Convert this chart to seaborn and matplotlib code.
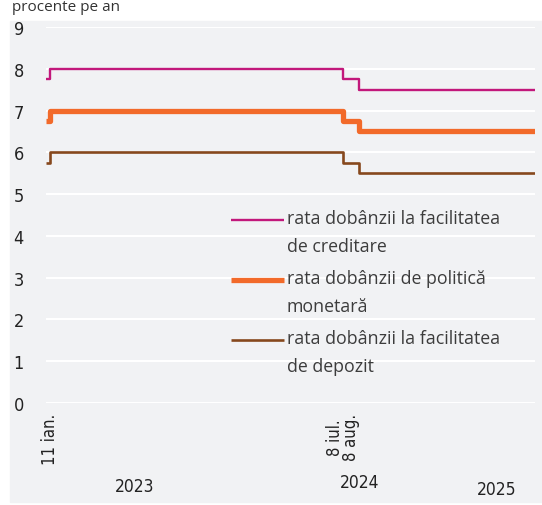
import pandas as pd
import numpy as np
import matplotlib
matplotlib.use("Agg")
import matplotlib.pyplot as plt
import matplotlib.dates as mdates
from matplotlib.patches import Rectangle
from matplotlib.legend_handler import HandlerLine2D
import seaborn as sns

# date of each change (first and last are the window limits)
dates = ["2023-01-04", "2023-01-11", "2024-07-08", "2024-08-08", "2025-06-30"]
lending = [7.75, 8.00, 7.75, 7.50, 7.50]
policy = [6.75, 7.00, 6.75, 6.50, 6.50]
deposit = [5.75, 6.00, 5.75, 5.50, 5.50]

series_names = ["rata dobânzii la facilitatea\nde creditare",
                "rata dobânzii de politică\nmonetară",
                "rata dobânzii la facilitatea\nde depozit"]
tick_dates = ["2023-01-11", "2024-07-08"]
tick_labels = ["11 ian.", "8 iul.\n8 aug."]
year_labels = ["2023", "2024", "2025"]
year_pos = ["2023-06-18", "2024-08-09", "2025-04-20"]
year_y = [-0.22, -0.21, -0.23]

df = pd.DataFrame({"date": pd.to_datetime(dates), series_names[0]: lending,
                   series_names[1]: policy, series_names[2]: deposit})
long = df.melt(id_vars="date", var_name="serie", value_name="rata")

bg = "#f1f2f4"
colors = {series_names[0]: "#c2187b", series_names[1]: "#f26a2a", series_names[2]: "#86481d"}
widths = {series_names[0]: 1.7, series_names[1]: 3.8, series_names[2]: 1.9}


class TopLineHandler(HandlerLine2D):
    # put the legend line level with the first text line
    def __init__(self, shift, **kw):
        super().__init__(**kw)
        self.shift = shift

    def create_artists(self, legend, orig_handle, xdescent, ydescent, width, height, fontsize, trans):
        arts = super().create_artists(legend, orig_handle, xdescent, ydescent, width, height, fontsize, trans)
        for a in arts:
            a.set_ydata(np.asarray(a.get_ydata()) + self.shift)
        return arts


sns.set_style("white")
plt.rcParams["font.family"] = ["DejaVu Sans"]
plt.rcParams["font.stretch"] = "condensed"

fig = plt.figure(figsize=(5.42, 5.06), dpi=100)
fig.patches.append(Rectangle((10 / 542, 3 / 506), 1, (506 - 22 - 3) / 506,
                             transform=fig.transFigure, color=bg, zorder=-5))
fig.text(12 / 542, 1.0, "procente pe an", fontsize=11, color="#333333",
         va="top", ha="left", family=["Open Sans", "DejaVu Sans"], stretch="normal")

ax = fig.add_axes([46 / 542, 102 / 506, (535 - 46) / 542, (404 - 28) / 506])
ax.set_facecolor(bg)

for name in series_names:
    sub = long[long["serie"] == name]
    sns.lineplot(data=sub, x="date", y="rata", ax=ax, color=colors[name],
                 linewidth=widths[name], drawstyle="steps-post", label=name,
                 solid_capstyle="butt", zorder=3)

ax.set_ylim(0, 9)
ax.set_yticks(range(0, 10))
ax.set_xlim(df["date"].iloc[0], df["date"].iloc[-1])
ax.yaxis.grid(True, color="white", linewidth=1.5)
ax.xaxis.grid(False)
for s in ax.spines.values():
    s.set_visible(False)
ax.tick_params(axis="y", length=0, labelsize=13, pad=16, labelcolor="#222222")
ax.set_xticks(pd.to_datetime(tick_dates))
ax.set_xticklabels(tick_labels, rotation=90, va="top", ha="center",
                   fontsize=12, color="#222222", linespacing=0.85)
ax.tick_params(axis="x", length=0, pad=7)
ax.set_xlabel("")
ax.set_ylabel("")

for lab, pos, yy in zip(year_labels, year_pos, year_y):
    ax.text(mdates.date2num(pd.Timestamp(pos)), yy, lab, transform=ax.get_xaxis_transform(),
            ha="center", va="center", fontsize=12.5, color="#222222")

handles, labels = ax.get_legend_handles_labels()
leg = ax.legend(handles, labels, loc="upper left", bbox_to_anchor=(169 / 489, (404 - 194) / 376),
                frameon=False, handlelength=3.0, handletextpad=0.15,
                labelspacing=0.8, labelcolor="#3c3c3c",
                handler_map={h: TopLineHandler(9.2) for h in handles},
                prop={"family": ["Open Sans", "DejaVu Sans"], "size": 12.8, "stretch": "normal"})
for t in leg.get_texts():
    t.set_linespacing(1.7)

fig.savefig("out.png", dpi=100)
